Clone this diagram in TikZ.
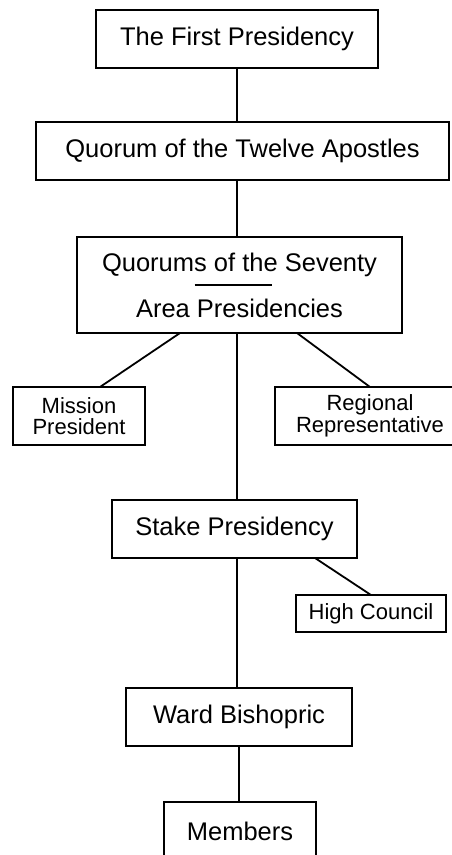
\documentclass[tikz,border=0pt]{standalone}
\usepackage{fontspec}
\setmainfont{Liberation Sans}
\usepackage{tikz}
\usetikzlibrary{positioning}
\tikzset{big node/.style={rectangle, draw, line width=1.8pt, inner sep=0pt, outer sep=0pt, minimum height=58pt, font=\fontsize{25.5}{28}\selectfont}, }
\tikzset{small node/.style={rectangle, draw, line width=1.8pt, inner sep=0pt, outer sep=0pt, minimum height=58pt, align=center, font=\fontsize{22}{20.5}\selectfont}, }

\begin{document}
\begin{tikzpicture}[x=1pt,y=1pt]
	\useasboundingbox (0,0) rectangle (452,-855);
	\node[big node, minimum width=282pt] (1) at (237,-39) {The First Presidency};
	\node[big node, minimum width=413pt] (2) [below = 54pt of 1, xshift=5.5pt] {Quorum of the Twelve Apostles};
	\node[big node, minimum width=325pt, minimum height=96pt, align=center, font=\fontsize{25.5}{46}\selectfont] (3) [below = 57pt of 2, xshift=-3pt] {Quorums of the Seventy\\Area Presidencies};
	\node[small node, minimum width=132pt] (4) [below = 54pt of 3, xshift=-160.5pt] {Mission\\President};
	\node[small node, minimum width=190pt] (5) [below = 54pt of 3, xshift=130.5pt] {Regional\\Representative};
	\node[big node, minimum width=245pt] (6) [below = 167pt of 3, xshift=-5pt] {Stake Presidency};
	\node[small node, minimum width=150pt, minimum height=37pt] (7) [below = 37pt of 6, xshift=136.5pt] {High Council};
	\node[big node, minimum width=226pt] (8) [below = 130pt of 6, xshift=4.5pt] {Ward Bishopric};
	\node[big node, minimum width=152pt] (9) [below = 56pt of 8, xshift=1pt] {Members};
	\path[draw, line width=1.8pt]
		(1.south) edge (1.south |- 2.north)
		(2.south -| 1.south) edge (3.north -| 1.south)
		([xshift=-59.5pt]3.south) edge ([xshift=21pt]4.north)
		([xshift=57.5pt]3.south) edge (5.north)
		(3.south -| 1.south) edge (6.north -| 1.south)
		([xshift=80.5pt]6.south) edge (7.north)
		(6.south -| 1.south) edge (8.north -| 1.south)
		(8.south) edge (8.south |- 9.north)
		;
	% rule between the two lines of the seventy box
	\draw[line width=1.8pt] ([xshift=-45pt]3.center) -- ([xshift=32pt]3.center);
\end{tikzpicture}
\end{document}
